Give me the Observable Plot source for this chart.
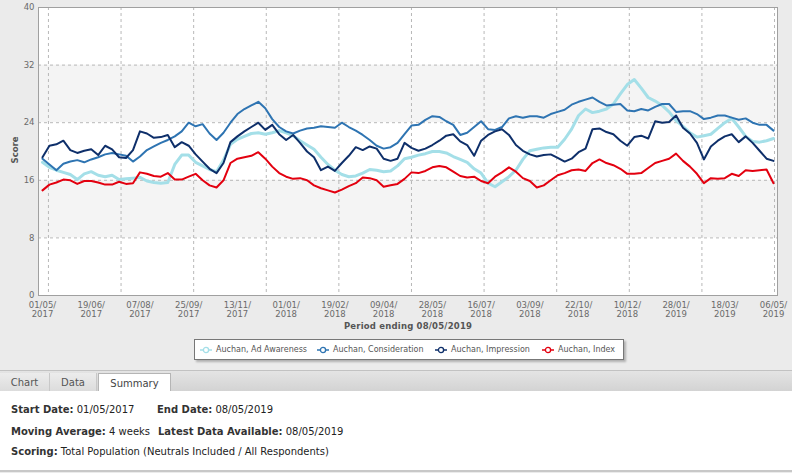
<!DOCTYPE html>
<html>
<head>
<meta charset="utf-8">
<script src="https://cdn.jsdelivr.net/npm/d3@7"></script>
<script src="https://cdn.jsdelivr.net/npm/@observablehq/plot@0.6"></script>
<style>
  html, body { margin: 0; padding: 0; }
  body { width: 792px; height: 473px; background: #ebebeb; font-family: "DejaVu Sans", Verdana, sans-serif; position: relative; overflow: hidden; }
  #chart { position: absolute; left: 0; top: 0; }
  .ylab { position: absolute; left: 15px; top: 150px; transform: translate(-50%, -50%) rotate(-90deg); font-size: 8.5px; font-weight: bold; color: #555; white-space: nowrap; }
  .xlab { position: absolute; left: 408px; top: 321px; transform: translateX(-50%); font-size: 8.5px; font-weight: bold; color: #555; white-space: nowrap; letter-spacing: 0.2px; }
  .legend { position: absolute; left: 194px; top: 339px; width: 428px; height: 19px; background: #fff; border: 1px solid #777; box-shadow: 2px 2px 2px rgba(0,0,0,0.25); }
  .legend .item { position: absolute; top: 0; height: 19px; display: flex; align-items: center; font-size: 8px; color: #555; white-space: nowrap; }
  .legend svg { margin-right: 4px; }
  .tabbar { position: absolute; left: 0; top: 370px; width: 792px; height: 20px; background: linear-gradient(#e4e4e4, #d3d3d3); border-top: 1px solid #c2c2c2; border-bottom: 1px solid #bdbdbd; }
  .tab { position: absolute; top: 2px; height: 18px; font-size: 10px; color: #555; display: flex; align-items: center; justify-content: center; }
  .tab.off { background: linear-gradient(#ececec, #dcdcdc); border-right: 1px solid #c8c8c8; }
  .tab.on { background: #fff; border: 1px solid #b5b5b5; border-bottom: none; height: 19px; color: #444; }
  .panel { position: absolute; left: 0; top: 391px; width: 792px; height: 79px; background: #fff; border-bottom: 2px solid #c8c8c8; }
  .row { position: absolute; font-size: 10px; color: #222; white-space: nowrap; }
  .row b { color: #333; }
</style>
</head>
<body>
<div id="chart"></div>
<div class="ylab">Score</div>
<div class="xlab">Period ending 08/05/2019</div>
<div class="legend" id="legend"></div>
<div class="tabbar">
  <div class="tab off" style="left:0px;width:49px;">Chart</div>
  <div class="tab off" style="left:50px;width:46px;">Data</div>
  <div class="tab on" style="left:98px;width:71px;">Summary</div>
</div>
<div class="panel">
  <div class="row" style="left:11px;top:13px;"><b>Start Date:</b> 01/05/2017</div>
  <div class="row" style="left:157px;top:13px;"><b>End Date:</b> 08/05/2019</div>
  <div class="row" style="left:11px;top:35px;"><b>Moving Average:</b> 4 weeks</div>
  <div class="row" style="left:158px;top:35px;"><b>Latest Data Available:</b> 08/05/2019</div>
  <div class="row" style="left:11px;top:55px;"><b>Scoring:</b> Total Population (Neutrals Included / All Respondents)</div>
</div>
<script>
// ---- data ----
const startDate = "2017-05-01"; // weekly observations
const seriesNames = ["Auchan, Ad Awareness", "Auchan, Consideration", "Auchan, Impression", "Auchan, Index"];
const seriesColors = ["#a4dfe8", "#2e74b2", "#0e2f6a", "#e3000f"];

const adAwareness = [18.5,17.8,17.4,17.1,16.8,16.1,16.9,17.2,16.7,16.5,
16.7,16.1,16.2,16.3,16.4,15.9,15.7,15.6,15.7,18.2,
19.5,19.5,18.5,18.0,17.5,17.2,18.8,21.0,21.7,22.1,
22.5,22.6,22.4,22.6,22.9,22.6,22.2,21.5,20.9,20.3,
19.2,18.2,17.4,16.8,16.5,16.6,17.0,17.5,17.4,17.2,
17.3,18.0,19.0,19.2,19.5,19.7,20.0,20.0,19.8,19.3,
18.9,18.5,17.6,17.0,15.6,15.1,15.8,16.5,17.4,18.9,
20.1,20.3,20.5,20.6,20.6,21.7,23.1,25.0,25.9,25.4,
25.6,25.9,26.6,28.0,29.3,30.0,28.8,27.5,27.0,26.4,
25.5,24.3,23.5,22.6,22.0,22.2,22.4,23.2,24.0,24.6,
23.4,22.1,21.4,21.3,21.5,21.8];

const consideration = [19.0,18.2,17.4,18.3,18.6,18.8,18.5,18.9,19.2,19.6,
19.8,19.6,19.4,18.6,19.3,20.2,20.7,21.2,21.6,22.1,
22.8,24.0,23.5,23.8,22.5,21.6,22.6,24.0,25.2,25.9,
26.4,26.9,26.0,24.5,23.4,22.8,22.5,22.9,23.2,23.3,
23.5,23.4,23.3,24.0,23.4,22.9,22.3,21.6,20.8,20.4,
20.6,21.2,22.4,23.6,23.7,24.4,24.9,24.8,24.2,23.7,
22.3,22.6,23.4,24.2,23.1,23.0,23.4,24.6,24.9,24.7,
24.9,24.9,24.7,25.2,25.5,25.8,26.5,26.9,27.2,27.5,
26.9,26.4,26.5,26.6,25.7,25.6,25.9,25.7,26.2,26.6,
26.6,25.5,25.6,25.6,25.2,24.5,24.7,25.0,25.0,24.7,
24.4,24.6,24.0,23.7,23.7,22.9];

const impression = [19.2,20.8,21.0,21.5,20.2,19.8,20.1,20.3,19.5,20.8,
20.3,19.2,19.1,20.2,22.8,22.5,21.9,22.0,22.3,20.6,
21.3,20.8,19.6,18.6,17.6,17.0,18.4,21.3,22.1,22.8,
23.4,24.0,23.0,23.7,22.4,21.6,22.3,21.2,20.0,19.2,
17.4,17.9,17.3,18.4,19.4,20.6,20.2,20.7,20.4,19.0,
18.7,19.0,21.2,20.5,20.1,20.4,20.9,21.5,22.2,22.4,
21.4,20.9,19.4,21.5,22.3,22.8,23.1,22.3,20.9,20.1,
19.6,19.3,19.5,19.6,19.1,18.6,19.0,19.9,20.4,23.1,
23.2,22.7,22.4,21.5,20.8,22.0,22.2,21.8,24.2,24.0,
24.1,25.0,23.3,22.5,21.2,18.9,20.7,21.5,22.1,22.4,
21.3,22.1,21.2,20.1,19.0,18.7];

const indexScore = [14.6,15.4,15.7,16.1,16.0,15.5,15.9,15.9,15.7,15.4,
15.4,15.8,15.5,15.6,17.1,16.9,16.6,16.5,17.0,16.1,
16.1,16.5,16.9,16.0,15.3,15.0,16.0,18.4,19.0,19.2,
19.4,19.9,19.0,17.9,17.0,16.5,16.2,16.3,16.0,15.3,
14.9,14.6,14.3,14.7,15.2,15.6,16.4,16.3,16.0,15.1,
15.3,15.5,16.2,17.1,17.0,17.3,17.8,18.0,17.8,17.2,
16.6,16.4,16.5,15.9,15.6,16.5,17.1,17.8,17.2,16.3,
15.9,15.0,15.3,16.0,16.7,17.0,17.4,17.5,17.3,18.4,
18.9,18.4,18.1,17.6,16.9,16.9,17.0,17.7,18.4,18.7,
19.0,19.7,18.7,17.9,16.9,15.6,16.3,16.2,16.3,16.9,
16.6,17.4,17.3,17.4,17.5,15.6];

const tickLabels = ["01/05/2017","19/06/2017","07/08/2017","25/09/2017","13/11/2017","01/01/2018","19/02/2018","09/04/2018","28/05/2018","16/07/2018","03/09/2018","22/10/2018","10/12/2018","28/01/2019","18/03/2019","06/05/2019"];
const gridDates = ["2017-05-07","2017-07-19","2017-09-30","2017-12-12","2018-02-23","2018-05-07","2018-07-19","2018-09-30","2018-12-12","2019-02-23","2019-05-07"];
const yTicks = [0, 8, 16, 24, 32, 40];
const shadedBands = [{lo: 8, hi: 16}, {lo: 24, hi: 32}];
const xDomain = ["2017-04-27", "2019-05-10"];

// ---- build table ----
const parseDMY = d3.utcParse("%d/%m/%Y");
const start = new Date(startDate + "T00:00:00Z");
const allSeries = [adAwareness, consideration, impression, indexScore];
const rows = [];
allSeries.forEach((vals, s) => {
  vals.forEach((v, i) => rows.push({series: seriesNames[s], date: d3.utcDay.offset(start, 7 * i), value: v}));
});
const tickDates = tickLabels.map(parseDMY);
const fmt = d3.utcFormat("%d/%m/");
const fmtY = d3.utcFormat("%Y");

const widths = [3, 2, 2, 2];

const chart = Plot.plot({
  width: 792,
  height: 335,
  marginLeft: 38,
  marginRight: 15,
  marginTop: 7,
  marginBottom: 40,
  style: {background: "transparent", fontFamily: "DejaVu Sans, Verdana, sans-serif", fontSize: "8.5px", color: "#6a6a6a"},
  x: {type: "utc", domain: xDomain.map(d => new Date(d + "T00:00:00Z"))},
  y: {domain: [0, 40]},
  color: {domain: seriesNames, range: seriesColors},
  marks: [
    Plot.frame({fill: "#ffffff"}),
    Plot.rect(shadedBands, {y1: "lo", y2: "hi", fill: "#f4f4f4"}),
    Plot.ruleY(yTicks.slice(1, -1), {stroke: "#b8b8b8", strokeDasharray: "3,3"}),
    Plot.ruleX(gridDates.map(d => new Date(d + "T00:00:00Z")), {stroke: "#b8b8b8", strokeDasharray: "3,3"}),
    Plot.axisY({ticks: yTicks, tickSize: 0, tickPadding: 4, label: null}),
    Plot.axisX({ticks: tickDates, tickSize: 0, tickPadding: 6, lineHeight: 1.1, label: null,
      tickFormat: d => fmt(d) + "\n" + fmtY(d)}),
    ...seriesNames.map((name, s) => Plot.line(rows.filter(r => r.series === name), {
      x: "date", y: "value", stroke: "series", strokeWidth: widths[s], strokeLinejoin: "round"
    })),
    Plot.frame({stroke: "#a0a0a0"})
  ]
});
document.getElementById("chart").appendChild(chart);

// ---- legend ----
const legend = document.getElementById("legend");
const itemLeft = [5, 122, 240, 347];
seriesNames.forEach((name, s) => {
  const it = document.createElement("div");
  it.className = "item";
  it.style.left = itemLeft[s] + "px";
  it.innerHTML = `<svg width="12" height="8"><line x1="0" y1="4" x2="12" y2="4" stroke="${seriesColors[s]}" stroke-width="1.5"/><circle cx="6" cy="4" r="2.6" fill="#fff" stroke="${seriesColors[s]}" stroke-width="1.3"/></svg>${name}`;
  legend.appendChild(it);
});
</script>
</body>
</html>
